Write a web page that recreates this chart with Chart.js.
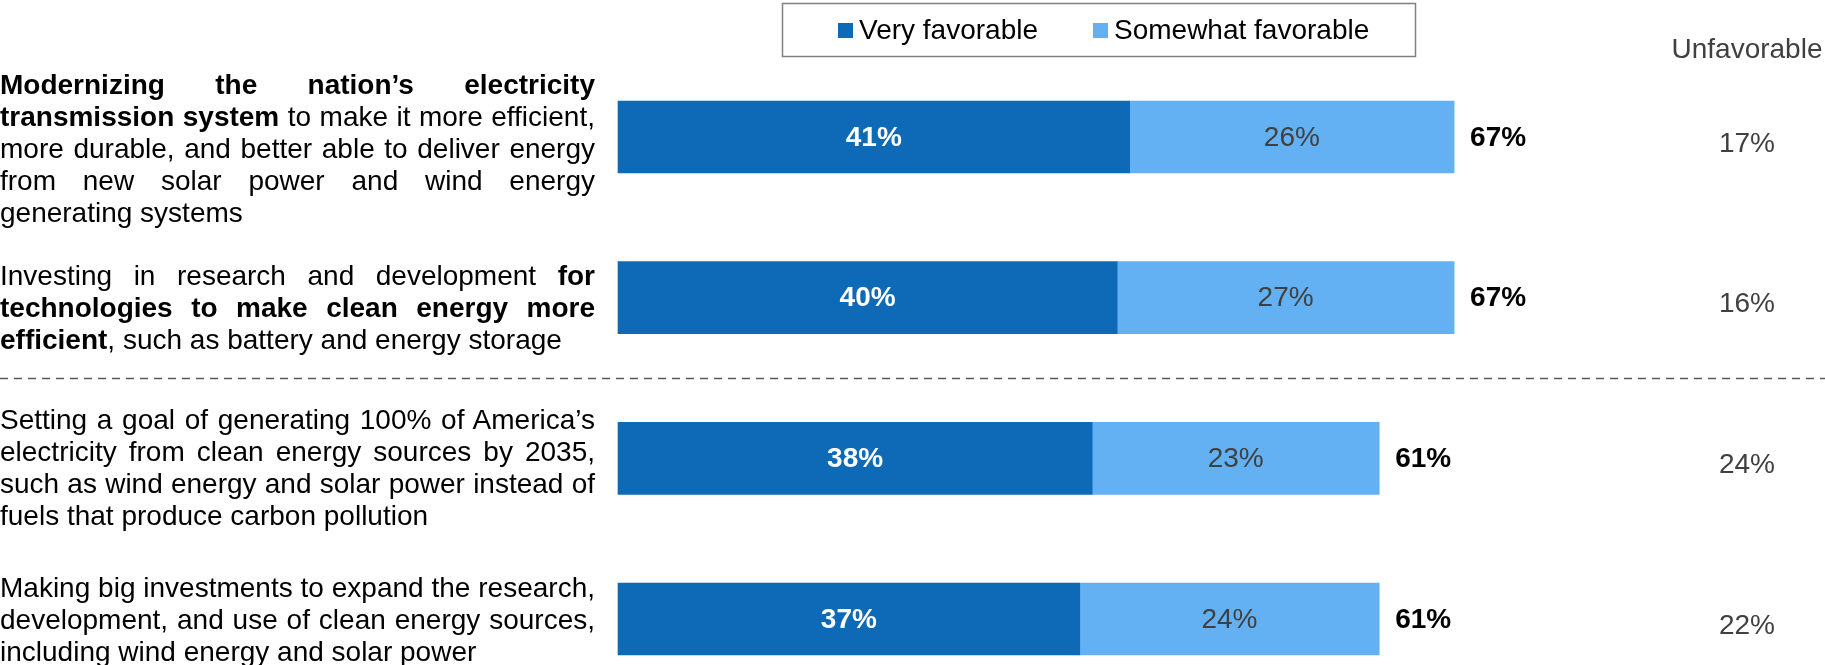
<!DOCTYPE html>
<html>
<head>
<meta charset="utf-8">
<script src="https://cdn.jsdelivr.net/npm/chart.js@4.4.1/dist/chart.umd.min.js"></script>
<style>
  html, body { margin: 0; padding: 0; background: #fff; }
  #wrap { position: relative; width: 1825px; height: 665px; overflow: hidden; }
  #chart { position: absolute; left: 0; top: 0; }
  .statement {
    position: absolute; left: 0; width: 595px;
    font-family: "Liberation Sans", Arial, sans-serif;
    font-size: 28px; line-height: 32px; color: #000;
  }
  .statement div { text-align: justify; text-align-last: justify; }
  .statement div.last { text-align-last: left; }
</style>
</head>
<body>
<div id="wrap">
  <canvas id="chart" width="1825" height="665"></canvas>
  <div id="labels"></div>
</div>
<script>
// Data
const statements = [
  ['<b>Modernizing the nation’s electricity</b>',
   '<b>transmission system</b> to make it more efficient,',
   'more durable, and better able to deliver energy',
   'from new solar power and wind energy',
   'generating systems'],
  ['Investing in research and development <b>for</b>',
   '<b>technologies to make clean energy more</b>',
   '<b>efficient</b>, such as battery and energy storage'],
  ['Setting a goal of generating 100% of America’s',
   'electricity from clean energy sources by 2035,',
   'such as wind energy and solar power instead of',
   'fuels that produce carbon pollution'],
  ['Making big investments to expand the research,',
   'development, and use of clean energy sources,',
   'including wind energy and solar power']
];
const seriesNames = ['Very favorable', 'Somewhat favorable'];
const veryFavorable = [41, 40, 38, 37];
const somewhatFavorable = [26, 27, 23, 24];
const totalFavorable = [67, 67, 61, 61];
const unfavorable = [17, 16, 24, 22];
const unfavorableTitle = 'Unfavorable';

// Look
const FONT = '"Liberation Sans", Arial, sans-serif';
const colors = {
  very: '#0E69B6',
  somewhat: '#63B1F2',
  lightText: '#404040',
  unfav: '#404040',
  rule: '#595959',
  legendBorder: '#808080'
};
const UNFAV_X = 1747;
const statementNudge = [12, 10, 10, 1];

// dashed separator between the two groups
const separator = {
  id: 'separator',
  beforeDatasetsDraw(chart) {
    const ys = chart.scales.y;
    const y = Math.round((ys.getPixelForValue(1) + ys.getPixelForValue(2)) / 2) + 0.5;
    const ctx = chart.ctx;
    ctx.save();
    ctx.strokeStyle = colors.rule;
    ctx.lineWidth = 1.5;
    ctx.setLineDash([8, 6]);
    ctx.beginPath();
    ctx.moveTo(0, y);
    ctx.lineTo(chart.width, y);
    ctx.stroke();
    ctx.restore();
  }
};

// values in bars, totals and unfavorable column
const barLabels = {
  id: 'barLabels',
  afterDatasetsDraw(chart) {
    const ctx = chart.ctx;
    const xs = chart.scales.x, ys = chart.scales.y;
    ctx.save();
    ctx.textAlign = 'center';
    ctx.textBaseline = 'middle';
    chart.data.datasets.forEach((ds, di) => {
      chart.getDatasetMeta(di).data.forEach((bar, i) => {
        const p = bar.getProps(['x', 'y', 'base'], true);
        ctx.font = (di === 0 ? 'bold ' : '') + '28px ' + FONT;
        ctx.fillStyle = di === 0 ? '#ffffff' : colors.lightText;
        ctx.fillText(ds.data[i] + '%', (p.x + p.base) / 2, p.y + 1);
      });
    });

    ctx.textAlign = 'left';
    ctx.font = 'bold 28px ' + FONT;
    ctx.fillStyle = '#000';
    totalFavorable.forEach((t, i) => {
      ctx.fillText(t + '%', xs.getPixelForValue(t) + 16, ys.getPixelForValue(i) + 1);
    });

    ctx.textAlign = 'center';
    ctx.font = '28px ' + FONT;
    ctx.fillStyle = colors.unfav;
    ctx.fillText(unfavorableTitle, UNFAV_X, 50);
    unfavorable.forEach((u, i) => {
      ctx.fillText(u + '%', UNFAV_X, ys.getPixelForValue(i) + 7);
    });
    ctx.restore();
  }
};

// boxed legend at the top
const boxedLegend = {
  id: 'boxedLegend',
  afterDraw(chart) {
    const ctx = chart.ctx;
    ctx.save();
    ctx.strokeStyle = colors.legendBorder;
    ctx.lineWidth = 1.5;
    ctx.strokeRect(782.5, 3.5, 633, 53);
    ctx.font = '28px ' + FONT;
    ctx.textBaseline = 'middle';
    ctx.textAlign = 'left';
    let x = 838;
    chart.data.datasets.forEach(ds => {
      ctx.fillStyle = ds.backgroundColor;
      ctx.fillRect(x, 23, 15, 15);
      x += 21;
      ctx.fillStyle = '#000';
      ctx.fillText(ds.label, x, 31);
      x += ctx.measureText(ds.label).width + 55;
    });
    ctx.restore();
  }
};

const chart = new Chart(document.getElementById('chart'), {
  type: 'bar',
  data: {
    labels: statements.map((s, i) => 'S' + (i + 1)),
    datasets: [{
      label: seriesNames[0],
      data: veryFavorable,
      backgroundColor: colors.very,
      barThickness: 72,
      borderWidth: 0,
      clip: false
    }, {
      label: seriesNames[1],
      data: somewhatFavorable,
      backgroundColor: colors.somewhat,
      barThickness: 72,
      borderWidth: 0,
      clip: false
    }]
  },
  options: {
    indexAxis: 'y',
    responsive: false,
    animation: false,
    devicePixelRatio: 1,
    layout: { padding: { left: 618, right: 9, top: 137, bottom: 46 } },
    scales: {
      x: { stacked: true, min: 0, max: 96, display: false },
      y: { stacked: true, display: false, offset: false }
    },
    plugins: {
      legend: { display: false },
      tooltip: { enabled: false }
    }
  },
  plugins: [separator, barLabels, boxedLegend]
});

// statement text on the left, placed against the category scale
const holder = document.getElementById('labels');
const ys = chart.scales.y;
statements.forEach((lines, i) => {
  const block = document.createElement('div');
  block.className = 'statement';
  lines.forEach((ln, k) => {
    const d = document.createElement('div');
    d.innerHTML = ln;
    if (k === lines.length - 1) d.className = 'last';
    block.appendChild(d);
  });
  block.style.top = (ys.getPixelForValue(i) + statementNudge[i] - lines.length * 16) + 'px';
  holder.appendChild(block);
});
</script>
</body>
</html>
